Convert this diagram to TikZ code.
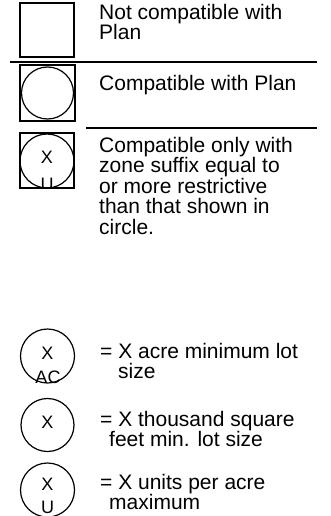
\documentclass[tikz,border=0pt]{standalone}
\usepackage{fontspec}
\setmainfont{Liberation Sans}
\begin{document}
\begin{tikzpicture}[x=1pt,y=-1pt,
  txt/.style={anchor=base west, inner sep=0pt, font=\fontsize{21}{20}\selectfont},
  lbl/.style={anchor=base, inner sep=0pt, font=\fontsize{18}{18}\selectfont},
  boxst/.style={draw, line width=1.5pt, inner sep=0pt, minimum width=54pt, minimum height=54pt},
  circst/.style={draw, circle, line width=1.2pt, inner sep=0pt},
  rulest/.style={line width=2pt}]
\useasboundingbox (0,0) rectangle (330,516);
% row 1
\node[boxst] (box1) at (47,30) {};
\node[txt] (t1a) at (99,20) {Not compatible with};
\node[txt] (t1b) at (99,40) {Plan};
\coordinate (r1a) at (10,62);
\coordinate (r1b) at (317,62);
\draw[rulest] (r1a) -- (r1b);
% row 2
\node[boxst, minimum width=55pt, minimum height=56pt] (box2) at (47.5,93) {};
\node[circst, minimum size=52pt] (c2) at (47.5,93) {};
\node[txt] (t2a) at (99,91) {Compatible with Plan};
\coordinate (r2a) at (86,128);
\coordinate (r2b) at (317,128);
\draw[rulest] (r2a) -- (r2b);
% row 3
\node[boxst, minimum height=55pt] (box3) at (47,160.5) {};
\node[circst, minimum size=54pt] (c3) at (47,161) {};
\node[lbl] (x3) at (47,163) {X};
\begin{scope}
\clip (20,133) rectangle (74,187);
\node[lbl] (u3) at (47,190) {U};
\end{scope}
\node[txt] (t3a) at (99,152) {Compatible only with};
\node[txt] (t3b) at (99,172.5) {zone suffix equal to};
\node[txt] (t3c) at (99,193) {or more restrictive};
\node[txt] (t3d) at (99,213.5) {than that shown in};
\node[txt] (t3e) at (99,234) {circle.};
% AC row
\node[circst, minimum size=54pt] (c4) at (47.5,356) {};
\node[lbl] (x4) at (47.5,359) {X};
\node[lbl] (ac4) at (48,383) {AC};
\node[txt] (t4a) at (100,358) {= X acre minimum lot};
\node[txt] (t4b) at (118,378) {size};
% thousand row
\node[circst, minimum size=53pt] (c5) at (47.5,425) {};
\node[lbl] (x5) at (47.5,428) {X};
\node[txt] (t5a) at (100,426) {= X thousand square};
\node[txt] (t5b) at (109,446) {feet min. lot size};
% units row
\node[circst, minimum size=54pt] (c6) at (47.5,490) {};
\node[lbl] (x6) at (47.5,490) {X};
\node[lbl] (u6) at (47.5,513) {U};
\node[txt] (t6a) at (100,489) {= X units per acre};
\node[txt] (t6b) at (109,509) {maximum};
\end{tikzpicture}
\end{document}
